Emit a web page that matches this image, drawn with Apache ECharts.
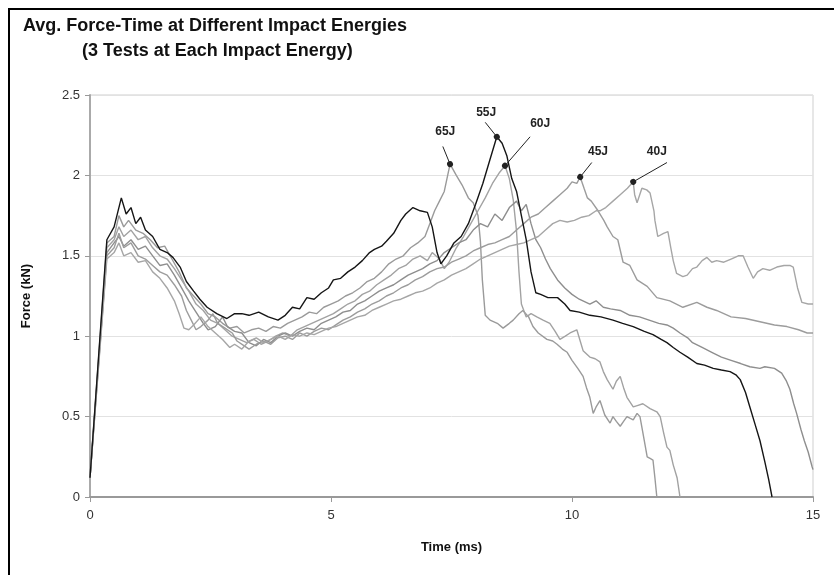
<!DOCTYPE html>
<html>
<head>
<meta charset="utf-8">
<script src="https://cdn.jsdelivr.net/npm/echarts@6/dist/echarts.min.js"></script>
<style>
  html, body { margin: 0; padding: 0; background: #fff; }
  #chart { width: 834px; height: 575px; }
</style>
</head>
<body>
<div id="chart"></div>
<script>
// [time (ms), force (kN)]
const e65 = [[0,0.12],[0.35,1.58],[0.5,1.62],[0.6,1.75],[0.7,1.68],[0.8,1.72],[0.95,1.66],[1.1,1.64],[1.25,1.6],[1.4,1.55],[1.55,1.56],[1.7,1.48],[1.85,1.4],[2.0,1.3],[2.15,1.25],[2.3,1.2],[2.45,1.14],[2.6,1.12],[2.75,1.08],[2.9,1.05],[3.05,1.06],[3.2,1.02],[3.35,1.04],[3.5,1.05],[3.65,1.03],[3.8,1.06],[3.95,1.05],[4.1,1.08],[4.25,1.1],[4.4,1.12],[4.55,1.15],[4.7,1.14],[4.85,1.18],[5.0,1.2],[5.15,1.22],[5.3,1.25],[5.45,1.27],[5.6,1.3],[5.75,1.34],[5.9,1.36],[6.05,1.4],[6.2,1.45],[6.35,1.48],[6.5,1.5],[6.65,1.55],[6.8,1.58],[6.95,1.62],[7.05,1.7],[7.15,1.78],[7.25,1.84],[7.35,1.9],[7.47,2.07],[7.6,2.0],[7.72,1.94],[7.85,1.86],[7.95,1.83],[8.05,1.75],[8.1,1.59],[8.14,1.35],[8.2,1.13],[8.3,1.1],[8.45,1.08],[8.57,1.05],[8.7,1.08],[8.78,1.1],[8.9,1.14],[8.98,1.16],[9.1,1.12],[9.19,1.06],[9.3,1.02],[9.48,0.98],[9.6,0.97],[9.69,0.95],[9.8,0.92],[9.9,0.9],[10.0,0.85],[10.12,0.8],[10.23,0.75],[10.3,0.68],[10.37,0.62],[10.44,0.52],[10.5,0.56],[10.58,0.6],[10.68,0.51],[10.79,0.46],[10.85,0.5],[10.92,0.47],[11.0,0.44],[11.07,0.47],[11.14,0.5],[11.2,0.49],[11.27,0.48],[11.35,0.52],[11.41,0.5],[11.47,0.4],[11.56,0.25],[11.62,0.24],[11.68,0.23],[11.72,0.12],[11.76,0]];

const e60 = [[0,0.12],[0.35,1.55],[0.5,1.6],[0.6,1.68],[0.7,1.62],[0.85,1.66],[1.0,1.6],[1.15,1.62],[1.3,1.55],[1.45,1.5],[1.6,1.48],[1.75,1.42],[1.9,1.35],[2.05,1.28],[2.2,1.2],[2.35,1.16],[2.5,1.1],[2.65,1.08],[2.8,1.04],[2.95,1.0],[3.1,0.98],[3.25,0.96],[3.4,0.98],[3.55,0.95],[3.7,0.97],[3.85,1.0],[4.0,1.02],[4.15,1.0],[4.3,1.04],[4.45,1.06],[4.6,1.08],[4.75,1.1],[4.9,1.12],[5.05,1.14],[5.2,1.17],[5.35,1.2],[5.5,1.22],[5.65,1.26],[5.8,1.28],[5.95,1.32],[6.1,1.35],[6.25,1.38],[6.4,1.42],[6.55,1.44],[6.7,1.48],[6.85,1.5],[7.0,1.47],[7.1,1.52],[7.25,1.48],[7.35,1.42],[7.45,1.46],[7.6,1.55],[7.75,1.62],[7.9,1.7],[8.05,1.78],[8.2,1.86],[8.35,1.95],[8.5,2.02],[8.61,2.06],[8.7,1.98],[8.78,1.85],[8.85,1.65],[8.9,1.4],[8.95,1.2],[9.05,1.12],[9.15,1.14],[9.27,1.12],[9.4,1.1],[9.54,1.08],[9.65,1.03],[9.75,0.98],[9.86,1.0],[9.96,1.02],[10.1,1.04],[10.17,0.97],[10.23,0.91],[10.37,0.87],[10.48,0.86],[10.58,0.84],[10.65,0.78],[10.73,0.73],[10.85,0.67],[10.92,0.72],[11.0,0.75],[11.07,0.68],[11.14,0.62],[11.27,0.56],[11.37,0.57],[11.47,0.58],[11.62,0.55],[11.76,0.53],[11.83,0.5],[11.9,0.4],[11.97,0.31],[12.03,0.29],[12.1,0.2],[12.18,0.12],[12.24,0]];

const e55 = [[0,0.12],[0.35,1.6],[0.5,1.68],[0.65,1.86],[0.75,1.76],[0.85,1.8],[0.95,1.7],[1.05,1.74],[1.15,1.66],[1.3,1.62],[1.45,1.54],[1.6,1.52],[1.72,1.49],[1.87,1.43],[2.0,1.34],[2.15,1.28],[2.28,1.23],[2.43,1.18],[2.63,1.14],[2.84,1.11],[3.0,1.14],[3.15,1.14],[3.3,1.13],[3.5,1.15],[3.7,1.12],[3.9,1.1],[4.05,1.13],[4.2,1.18],[4.35,1.17],[4.5,1.24],[4.65,1.23],[4.8,1.27],[4.95,1.3],[5.05,1.35],[5.2,1.36],[5.35,1.4],[5.5,1.43],[5.65,1.47],[5.8,1.52],[5.9,1.54],[6.05,1.56],[6.15,1.59],[6.3,1.64],[6.45,1.72],[6.55,1.76],[6.7,1.8],[6.85,1.78],[7.0,1.77],[7.1,1.68],[7.2,1.52],[7.28,1.45],[7.4,1.5],[7.55,1.58],[7.7,1.62],[7.85,1.7],[8.0,1.82],[8.15,1.95],[8.3,2.1],[8.44,2.24],[8.55,2.2],[8.65,2.12],[8.75,1.98],[8.85,1.9],[8.95,1.75],[9.05,1.6],[9.15,1.4],[9.25,1.27],[9.35,1.26],[9.5,1.24],[9.7,1.24],[9.85,1.2],[9.96,1.16],[10.15,1.15],[10.37,1.13],[10.6,1.12],[10.85,1.1],[11.05,1.08],[11.27,1.06],[11.5,1.03],[11.68,1.01],[11.85,0.98],[11.97,0.96],[12.1,0.93],[12.24,0.9],[12.4,0.87],[12.59,0.83],[12.75,0.82],[12.93,0.8],[13.1,0.79],[13.28,0.78],[13.4,0.76],[13.49,0.73],[13.6,0.65],[13.69,0.56],[13.8,0.45],[13.9,0.35],[14.0,0.22],[14.08,0.11],[14.15,0]];

const e50 = [[0,0.12],[0.35,1.52],[0.5,1.58],[0.6,1.62],[0.7,1.56],[0.85,1.6],[1.0,1.54],[1.15,1.56],[1.3,1.5],[1.45,1.44],[1.6,1.45],[1.75,1.38],[1.9,1.3],[2.05,1.22],[2.2,1.15],[2.35,1.08],[2.45,1.04],[2.6,1.06],[2.75,1.12],[2.85,1.06],[3.0,1.03],[3.15,1.02],[3.3,0.96],[3.45,0.94],[3.6,0.98],[3.75,0.96],[3.9,1.0],[4.05,1.02],[4.2,1.0],[4.35,1.03],[4.5,1.05],[4.65,1.04],[4.8,1.08],[4.95,1.1],[5.1,1.12],[5.25,1.15],[5.4,1.16],[5.55,1.2],[5.7,1.22],[5.85,1.25],[6.0,1.28],[6.15,1.3],[6.3,1.32],[6.45,1.35],[6.6,1.38],[6.75,1.4],[6.9,1.42],[7.05,1.45],[7.2,1.47],[7.35,1.52],[7.5,1.55],[7.65,1.58],[7.8,1.6],[7.95,1.66],[8.1,1.7],[8.25,1.68],[8.4,1.76],[8.55,1.72],[8.7,1.8],[8.85,1.84],[8.95,1.78],[9.05,1.82],[9.15,1.7],[9.25,1.6],[9.35,1.55],[9.45,1.48],[9.55,1.42],[9.7,1.35],[9.85,1.3],[10.0,1.26],[10.15,1.23],[10.37,1.2],[10.5,1.22],[10.65,1.18],[10.8,1.17],[11.0,1.16],[11.2,1.13],[11.4,1.12],[11.6,1.1],[11.8,1.08],[11.97,1.07],[12.1,1.05],[12.24,1.02],[12.4,0.99],[12.5,0.96],[12.7,0.93],[12.9,0.9],[13.1,0.87],[13.3,0.85],[13.5,0.83],[13.69,0.81],[13.9,0.8],[14.0,0.81],[14.2,0.8],[14.35,0.77],[14.45,0.72],[14.52,0.67],[14.6,0.58],[14.66,0.52],[14.75,0.42],[14.82,0.35],[14.9,0.28],[14.98,0.19],[15,0.17]];

const e45 = [[0,0.12],[0.35,1.5],[0.5,1.55],[0.6,1.64],[0.7,1.55],[0.85,1.58],[1.0,1.5],[1.15,1.48],[1.3,1.44],[1.45,1.4],[1.6,1.38],[1.75,1.32],[1.9,1.25],[2.0,1.16],[2.1,1.1],[2.2,1.04],[2.3,1.06],[2.45,1.1],[2.55,1.14],[2.65,1.08],[2.8,1.05],[2.95,1.02],[3.05,0.97],[3.2,0.94],[3.3,0.92],[3.45,0.95],[3.6,0.97],[3.75,0.95],[3.9,0.99],[4.05,1.0],[4.2,0.98],[4.35,1.02],[4.5,1.0],[4.65,1.03],[4.8,1.05],[4.95,1.04],[5.1,1.07],[5.25,1.1],[5.4,1.12],[5.55,1.15],[5.7,1.17],[5.85,1.2],[6.0,1.22],[6.15,1.25],[6.3,1.27],[6.45,1.3],[6.6,1.32],[6.75,1.35],[6.9,1.37],[7.05,1.4],[7.2,1.42],[7.35,1.43],[7.5,1.46],[7.65,1.48],[7.8,1.5],[7.95,1.53],[8.1,1.55],[8.25,1.57],[8.4,1.58],[8.55,1.6],[8.7,1.62],[8.85,1.66],[9.0,1.7],[9.15,1.74],[9.3,1.76],[9.45,1.8],[9.6,1.84],[9.75,1.88],[9.9,1.92],[10.0,1.96],[10.1,1.95],[10.17,1.99],[10.25,1.92],[10.32,1.86],[10.4,1.84],[10.54,1.78],[10.66,1.72],[10.73,1.68],[10.85,1.62],[10.95,1.6],[11.06,1.46],[11.2,1.44],[11.35,1.35],[11.56,1.31],[11.76,1.24],[12.03,1.22],[12.3,1.18],[12.59,1.21],[12.8,1.18],[13.0,1.16],[13.3,1.12],[13.6,1.11],[13.9,1.09],[14.2,1.07],[14.46,1.06],[14.7,1.04],[14.88,1.02],[15,1.02]];

const e40 = [[0,0.12],[0.35,1.48],[0.5,1.52],[0.6,1.58],[0.7,1.5],[0.85,1.52],[1.0,1.46],[1.15,1.47],[1.3,1.4],[1.45,1.36],[1.6,1.3],[1.75,1.22],[1.85,1.14],[1.95,1.05],[2.05,1.04],[2.15,1.07],[2.3,1.12],[2.45,1.06],[2.6,1.02],[2.75,0.98],[2.9,0.93],[3.0,0.95],[3.15,0.92],[3.3,0.97],[3.45,0.99],[3.6,0.96],[3.75,0.98],[3.9,1.0],[4.05,0.98],[4.2,1.01],[4.35,1.0],[4.5,1.02],[4.65,1.01],[4.8,1.03],[4.95,1.05],[5.1,1.06],[5.25,1.08],[5.4,1.1],[5.55,1.12],[5.7,1.13],[5.85,1.16],[6.0,1.18],[6.15,1.2],[6.3,1.22],[6.45,1.23],[6.6,1.25],[6.75,1.27],[6.9,1.28],[7.05,1.3],[7.2,1.33],[7.35,1.35],[7.5,1.38],[7.65,1.4],[7.8,1.42],[7.95,1.45],[8.1,1.48],[8.25,1.5],[8.4,1.52],[8.55,1.54],[8.7,1.56],[8.85,1.57],[9.0,1.58],[9.15,1.6],[9.3,1.62],[9.45,1.66],[9.6,1.7],[9.75,1.72],[9.9,1.71],[10.05,1.72],[10.2,1.74],[10.35,1.75],[10.5,1.78],[10.58,1.78],[10.7,1.8],[10.85,1.84],[11.0,1.88],[11.15,1.92],[11.27,1.96],[11.3,1.88],[11.35,1.83],[11.45,1.92],[11.55,1.91],[11.62,1.89],[11.7,1.78],[11.72,1.72],[11.78,1.62],[11.9,1.64],[11.99,1.65],[12.05,1.55],[12.1,1.47],[12.17,1.39],[12.3,1.37],[12.39,1.38],[12.5,1.42],[12.59,1.43],[12.7,1.47],[12.8,1.49],[12.9,1.46],[13.0,1.47],[13.15,1.46],[13.3,1.48],[13.45,1.5],[13.55,1.5],[13.65,1.43],[13.76,1.36],[13.85,1.4],[13.96,1.42],[14.1,1.41],[14.25,1.43],[14.4,1.44],[14.52,1.44],[14.59,1.43],[14.68,1.3],[14.77,1.21],[14.9,1.2],[15,1.2]];

const yTicks = [0, 0.5, 1, 1.5, 2, 2.5];
const xTicks = [0, 5, 10, 15];

// callout labels: text position, leader start, dot on curve
const callouts = [
  { name: '65J', text: [7.37, 2.27], from: [7.32, 2.18], to: [7.47, 2.07] },
  { name: '55J', text: [8.22, 2.39], from: [8.2, 2.33], to: [8.44, 2.24] },
  { name: '60J', text: [9.34, 2.32], from: [9.13, 2.24], to: [8.61, 2.06] },
  { name: '45J', text: [10.54, 2.15], from: [10.41, 2.08], to: [10.17, 1.99] },
  { name: '40J', text: [11.76, 2.15], from: [11.97, 2.08], to: [11.27, 1.96] }
];

const FONT = 'Liberation Sans, Arial, sans-serif';
const chart = echarts.init(document.getElementById('chart'));

const curves = [
  { name: '65J', data: e65, color: '#9a9a9a' },
  { name: '60J', data: e60, color: '#a2a2a2' },
  { name: '50J', data: e50, color: '#8e8e8e' },
  { name: '45J', data: e45, color: '#9c9c9c' },
  { name: '40J', data: e40, color: '#a6a6a6' },
  { name: '55J', data: e55, color: '#151515' }
];

const series = curves.map(c => ({
  name: c.name,
  type: 'line',
  data: c.data,
  showSymbol: false,
  symbol: 'none',
  lineStyle: { color: c.color, width: 1.4 },
  z: c.name === '55J' ? 3 : 2
}));

// leader lines and labels as an overlay series
series.push({
  type: 'line',
  data: [],
  silent: true,
  markLine: {
    silent: true,
    animation: false,
    label: { show: false },
    lineStyle: { color: '#222', width: 1, type: 'solid' },
    data: callouts.map(c => [
      { coord: c.from, symbol: 'none' },
      { coord: c.to, symbol: 'circle', symbolSize: 6 }
    ])
  },
  markPoint: {
    silent: true,
    animation: false,
    symbol: 'circle',
    symbolSize: 0,
    label: {
      show: true,
      color: '#222',
      fontSize: 12,
      fontWeight: 'bold',
      fontFamily: FONT,
      formatter: p => p.name
    },
    data: callouts.map(c => ({ name: c.name, coord: c.text }))
  }
});

const option = {
  animation: false,
  backgroundColor: '#fff',
  title: [
    {
      text: 'Avg. Force-Time at Different Impact Energies',
      left: 18, top: 12,
      textStyle: { fontSize: 18, fontWeight: 'bold', color: '#111', fontFamily: FONT }
    },
    {
      text: '(3 Tests at Each Impact Energy)',
      left: 77, top: 37,
      textStyle: { fontSize: 18, fontWeight: 'bold', color: '#111', fontFamily: FONT }
    }
  ],
  graphic: [
    {
      type: 'rect',
      shape: { x: 9, y: 9, width: 840, height: 580 },
      style: { fill: 'none', stroke: '#000', lineWidth: 2 },
      silent: true
    }
  ],
  grid: { left: 90, right: 21, top: 95, bottom: 78, show: true, borderColor: '#cfcfcf', borderWidth: 1 },
  xAxis: {
    type: 'value',
    min: xTicks[0],
    max: xTicks[xTicks.length - 1],
    interval: 5,
    name: 'Time (ms)',
    nameLocation: 'middle',
    nameGap: 44,
    nameTextStyle: { fontSize: 13, fontWeight: 'bold', color: '#111', fontFamily: FONT },
    axisLine: { show: true, lineStyle: { color: '#999', width: 2 } },
    axisTick: { show: true, length: 5, lineStyle: { color: '#999' } },
    axisLabel: { fontSize: 13, color: '#333', margin: 12, fontFamily: FONT },
    splitLine: { show: false }
  },
  yAxis: {
    type: 'value',
    min: yTicks[0],
    max: yTicks[yTicks.length - 1],
    interval: 0.5,
    name: 'Force (kN)',
    nameLocation: 'middle',
    nameGap: 57,
    nameTextStyle: { fontSize: 13, fontWeight: 'bold', color: '#111', fontFamily: FONT },
    axisLine: { show: true, lineStyle: { color: '#aaa', width: 2 } },
    axisTick: { show: true, length: 5, lineStyle: { color: '#999' } },
    axisLabel: { fontSize: 13, color: '#333', margin: 10, fontFamily: FONT },
    splitLine: { show: true, lineStyle: { color: '#e2e2e2', width: 1 } }
  },
  series: series
};

chart.setOption(option);
</script>
</body>
</html>
